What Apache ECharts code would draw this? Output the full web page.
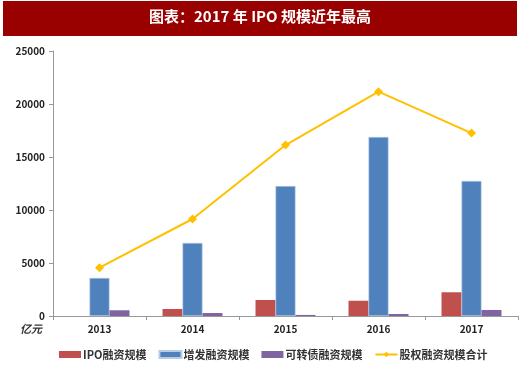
<!DOCTYPE html>
<html><head><meta charset="utf-8">
<script src="https://cdn.jsdelivr.net/npm/echarts@6/dist/echarts.min.js"></script>
<style>html,body{margin:0;padding:0;background:#fff}#c{width:520px;height:381px}</style>
</head><body><div id="c"></div>
<script>
const categories = ['2013','2014','2015','2016','2017'];
const ipo = [0, 660, 1510, 1440, 2240];
const seo = [3590, 6890, 12260, 16890, 12740];
const cb = [540, 280, 100, 190, 570];
const total = [4560, 9150, 16130, 21160, 17260];
const yTicks = [0, 5000, 10000, 15000, 20000, 25000];
const seriesNames = ['IPO融资规模','增发融资规模','可转债融资规模','股权融资规模合计'];

const chart = echarts.init(document.getElementById('c'));
const font = '"Noto Sans CJK SC", sans-serif';
chart.setOption({
  animation:false,
  graphic:[
    {type:'rect',shape:{x:3,y:1,width:514,height:35},style:{fill:'#990000'}},
    {type:'text',left:'center',top:9,style:{text:'图表：2017 年 IPO 规模近年最高',fill:'#fff',font:'bold 15px "Noto Sans CJK SC", serif'}},
    {type:'text',left:20,top:323,style:{text:'亿元',fill:'#333',font:'italic bold 11px "Noto Sans CJK SC", sans-serif'}}
  ],
  grid:{left:53,right:2,top:51,bottom:65},
  legend:{
    top:344,left:54,itemGap:12,itemWidth:22,itemHeight:7,
    textStyle:{fontFamily:font,fontSize:11,fontWeight:'bold',color:'#333',padding:[0,0,0,-3]},
    data:seriesNames.map((n,i)=> i<3 ? {name:n,icon:'rect'} : {name:n})
  },
  xAxis:{
    type:'category',data:categories,
    axisLine:{lineStyle:{color:'#999'}},
    axisTick:{show:true,lineStyle:{color:'#999'},length:4},
    axisLabel:{fontFamily:font,fontWeight:'bold',fontSize:10,color:'#222',margin:8}
  },
  yAxis:{
    type:'value',min:yTicks[0],max:yTicks[yTicks.length-1],interval:5000,
    axisLine:{show:true,lineStyle:{color:'#999'}},
    axisTick:{show:true,length:4,lineStyle:{color:'#999'}},
    splitLine:{show:false},
    axisLabel:{fontFamily:font,fontWeight:'bold',fontSize:10,color:'#222',margin:8,formatter:v=>String(v)}
  },
  series:[
    {name:seriesNames[0],type:'bar',data:ipo,barWidth:20,barGap:'0%',itemStyle:{color:'#C0504D'}},
    {name:seriesNames[1],type:'bar',data:seo,barWidth:20,barGap:'0%',itemStyle:{color:'#4F81BD',borderColor:'#b8cce4',borderWidth:0.6}},
    {name:seriesNames[2],type:'bar',data:cb,barWidth:20,barGap:'0%',itemStyle:{color:'#8064A2'}},
    {name:seriesNames[3],type:'line',data:total,symbol:'diamond',symbolSize:9,
      lineStyle:{color:'#FFC000',width:2},itemStyle:{color:'#FFC000'}}
  ]
});
</script></body></html>
